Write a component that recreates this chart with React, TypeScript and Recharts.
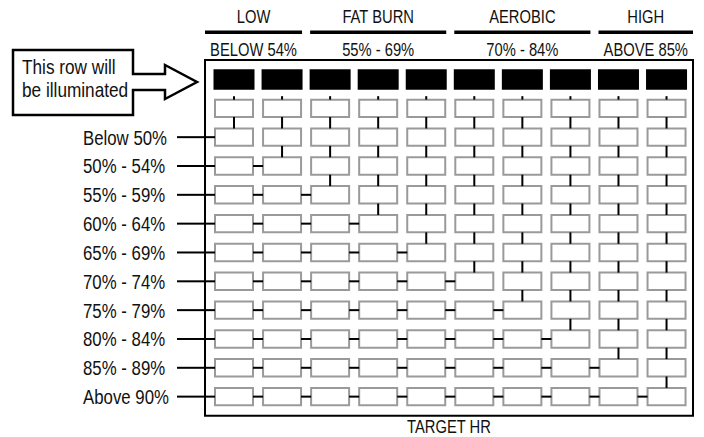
import React from 'react';
import { ComposedChart, XAxis, YAxis, ReferenceArea, ReferenceLine, Label } from 'recharts';

// ---- data ----
const ROW_LABELS = [
  'Below 50%', '50% - 54%', '55% - 59%', '60% - 64%', '65% - 69%',
  '70% - 74%', '75% - 79%', '80% - 84%', '85% - 89%', 'Above 90%',
];
const ZONE_NAMES = ['LOW', 'FAT BURN', 'AEROBIC', 'HIGH'];
const ZONE_RANGES = ['BELOW 54%', '55% - 69%', '70% - 84%', 'ABOVE 85%'];
const ZONE_COLUMNS = [2, 3, 3, 2];
// for each LED column: the labelled row (index into ROW_LABELS) where its chain ends
const COLUMN_DEPTH = [0, 1, 2, 3, 4, 5, 6, 7, 8, 9];
const CALLOUT_LINES = ['This row will', 'be illuminated'];
const X_TITLE = 'TARGET HR';

// ---- layout ----
const W = 704;
const H = 437;
const COL0 = 234, COLP = 48.06;
const ROW0 = 79.5, ROWP = 28.83;
const dx = (px: number) => (px - COL0) / COLP;
const dy = (py: number) => (py - ROW0) / ROWP;
const FRAME = { l: 205, t: 60, r: 693, b: 415.7 };
const X_DOMAIN: [number, number] = [dx(FRAME.l), dx(FRAME.r)];
const Y_DOMAIN: [number, number] = [dy(FRAME.t), dy(FRAME.b)];
const FONT = "'Liberation Sans', Arial, sans-serif";
const NARROW = 0.82;
const TXT = '#111';

const GHW = 19 / COLP, GHH = 8.7 / ROWP; // gray box half sizes
const BHW = 20.5 / COLP, BHH = 10.25 / ROWP; // black box half sizes
const BLACK_ROW = 0;
const BLANK_ROW = 1;
const FIRST_LABEL_ROW = 2;

const NarrowText = ({ x, y, anchor = 'start', size, dy: ddy, children }: any) => (
  <text transform={`translate(${x},${y}) scale(${NARROW},1)`} x={0} y={0} dy={ddy}
    textAnchor={anchor} fontSize={size} fontFamily={FONT} fill={TXT}>
    {children}
  </text>
);

const RowTick = (props: any) => {
  const { y, payload } = props;
  const label = ROW_LABELS[payload.value - FIRST_LABEL_ROW];
  return <NarrowText x={83} y={y} dy="0.36em" size={20.5}>{label}</NarrowText>;
};

const topLabel = (text: string) => (props: any) => {
  const vb = props.viewBox || {};
  return <NarrowText x={vb.x + vb.width / 2} y={vb.y - 9} anchor="middle" size={18}>{text}</NarrowText>;
};
const bottomLabel = (text: string) => (props: any) => {
  const vb = props.viewBox || {};
  return <NarrowText x={vb.x + vb.width / 2} y={vb.y + (vb.height || 0) + 10.7} dy="0.71em" anchor="middle" size={18}>{text}</NarrowText>;
};
const centerLabel = (text: string) => (props: any) => {
  const vb = props.viewBox || {};
  return <NarrowText x={vb.x + vb.width / 2} y={vb.y + vb.height / 2} dy="0.36em" anchor="middle" size={18}>{text}</NarrowText>;
};

const CalloutShape = (props: any) => {
  const { x, y, width, height } = props;
  const sx = width / 184, sy = height / 65;
  const p = (a: number, b: number) => `${x + a * sx},${y + b * sy}`;
  const pts = [p(0, 0), p(120, 0), p(120, 24), p(152, 24), p(152, 15), p(184, 32), p(152, 49), p(152, 40), p(120, 40), p(120, 65), p(0, 65)].join(' ');
  return (
    <g>
      <polygon points={pts} fill="#fff" stroke="#000" strokeWidth={2.5} strokeLinejoin="miter" />
      {CALLOUT_LINES.map((t, i) => (
        <NarrowText key={i} x={x + 9 * sx} y={y + (24 + i * 23) * sy} size={21}>{t}</NarrowText>
      ))}
    </g>
  );
};

export default function App() {
  const nCols = COLUMN_DEPTH.length;
  const nRows = ROW_LABELS.length;
  const lastRow = FIRST_LABEL_ROW + nRows - 1;
  const elems: React.ReactNode[] = [];

  // frame
  elems.push(
    <ReferenceArea key="frame" x1={X_DOMAIN[0]} x2={X_DOMAIN[1]} y1={Y_DOMAIN[0]} y2={Y_DOMAIN[1]}
      fill="#fff" fillOpacity={0} stroke="#000" strokeWidth={2} ifOverflow="visible" />
  );

  // header zones
  let start = 0;
  ZONE_NAMES.forEach((name, zi) => {
    const end = start + ZONE_COLUMNS[zi] - 1;
    const x1 = start === 0 ? X_DOMAIN[0] : start - GHW - 1 / COLP;
    const x2 = end === nCols - 1 ? X_DOMAIN[1] : end + GHW + 1 / COLP;
    const yh = dy(32.3);
    elems.push(
      <ReferenceLine key={`z${zi}`} segment={[{ x: x1, y: yh }, { x: x2, y: yh }]} stroke="#000" strokeWidth={3.5}
        ifOverflow="visible">
        <Label position="top" content={topLabel(name)} />
        <Label position="bottom" content={bottomLabel(ZONE_RANGES[zi])} />
      </ReferenceLine>
    );
    start = end + 1;
  });

  // connectors
  COLUMN_DEPTH.forEach((depth, j) => {
    elems.push(
      <ReferenceLine key={`s${j}`} segment={[{ x: j, y: BLANK_ROW - GHH - 0.12 }, { x: j, y: BLANK_ROW - GHH }]}
        stroke="#000" strokeWidth={2} ifOverflow="visible" />
    );
    const endRow = FIRST_LABEL_ROW + depth;
    for (let r = BLANK_ROW; r < endRow; r++) {
      elems.push(
        <ReferenceLine key={`v${j}-${r}`} segment={[{ x: j, y: r + GHH }, { x: j, y: r + 1 - GHH }]}
          stroke="#000" strokeWidth={2} ifOverflow="visible" />
      );
    }
  });
  ROW_LABELS.forEach((_, i) => {
    const r = FIRST_LABEL_ROW + i;
    elems.push(
      <ReferenceLine key={`hl${i}`} segment={[{ x: X_DOMAIN[0], y: r }, { x: -GHW, y: r }]}
        stroke="#000" strokeWidth={2} ifOverflow="visible" />
    );
    COLUMN_DEPTH.forEach((_d, k) => {
      if (k + 1 < nCols && COLUMN_DEPTH[k + 1] <= i) {
        elems.push(
          <ReferenceLine key={`h${i}-${k}`} segment={[{ x: k + GHW, y: r }, { x: k + 1 - GHW, y: r }]}
            stroke="#000" strokeWidth={2} ifOverflow="visible" />
        );
      }
    });
  });

  // cells
  COLUMN_DEPTH.forEach((_, j) => {
    elems.push(
      <ReferenceArea key={`b${j}`} x1={j - BHW} x2={j + BHW} y1={BLACK_ROW - BHH} y2={BLACK_ROW + BHH}
        fill="#000" fillOpacity={1} stroke="none" ifOverflow="visible" />
    );
    for (let r = BLANK_ROW; r <= lastRow; r++) {
      elems.push(
        <ReferenceArea key={`g${j}-${r}`} x1={j - GHW} x2={j + GHW} y1={r - GHH} y2={r + GHH}
          fill="#fff" fillOpacity={1} stroke="#9a9a9a" strokeWidth={2} ifOverflow="visible" />
      );
    }
  });

  // callout
  elems.push(
    <ReferenceArea key="callout" x1={dx(13)} x2={dx(197)} y1={dy(50)} y2={dy(115)} ifOverflow="visible"
      shape={<CalloutShape />} />
  );

  const rowTicks = ROW_LABELS.map((_, i) => FIRST_LABEL_ROW + i);

  return (
    <div style={{ position: 'absolute', left: 0, top: 0, background: '#fff' }}>
      <ComposedChart width={W} height={H} data={[]} margin={{ top: FRAME.t, right: W - FRAME.r, bottom: 0, left: 0 }}>
        <XAxis type="number" dataKey="x" domain={X_DOMAIN} allowDataOverflow tick={false} tickLine={false}
          axisLine={false} height={H - FRAME.b}>
          <Label position="center" content={centerLabel(X_TITLE)} />
        </XAxis>
        <YAxis type="number" dataKey="y" domain={Y_DOMAIN} allowDataOverflow reversed width={FRAME.l}
          ticks={rowTicks} interval={0} tick={<RowTick />} axisLine={false}
          tickLine={{ stroke: '#000', strokeWidth: 2 }} tickSize={28} />
        {elems}
      </ComposedChart>
    </div>
  );
}
